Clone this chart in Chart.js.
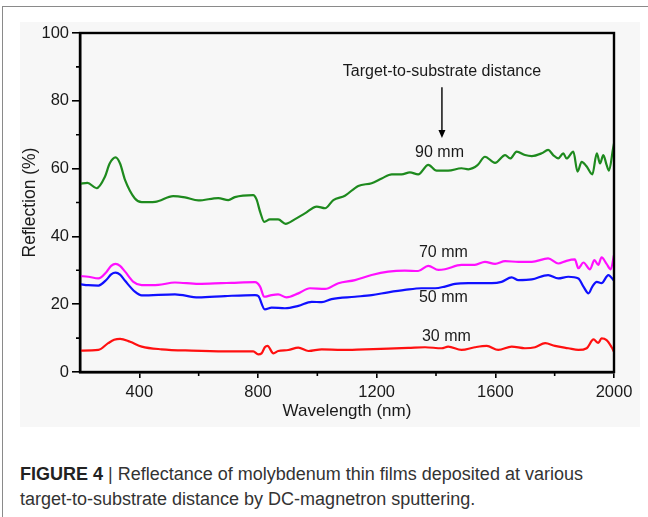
<!DOCTYPE html>
<html>
<head>
<meta charset="utf-8">
<script src="https://cdn.jsdelivr.net/npm/chart.js@4.4.0/dist/chart.umd.min.js"></script>
<style>
    html, body { margin: 0; padding: 0; background: #fff; }
    body { width: 648px; height: 517px; position: relative; overflow: hidden; font-family: "Liberation Sans", Arial, sans-serif; }
    #frame { position: absolute; left: 2px; top: 6px; width: 660px; height: 530px; border-left: 1px solid #8a8a8a; border-top: 1px solid #8a8a8a; }
    #panel { position: absolute; left: 20px; top: 22px; width: 620px; height: 405px; background: #f7f7f7; }
    #wrap { position: absolute; left: 0; top: 0; width: 648px; height: 430px; }
    #caption { position: absolute; left: 20px; top: 462px; width: 625px; font-size: 18px; letter-spacing: 0; line-height: 25px; color: #333; white-space: nowrap; }
    #caption b { color: #222; }
</style>
</head>
<body>
<div id="frame"></div>
<div id="panel"></div>
<div id="wrap"><canvas id="reflChart"></canvas></div>
<div id="caption"><b>FIGURE 4</b> | Reflectance of molybdenum thin films deposited at various<br>target-to-substrate distance by DC-magnetron sputtering.</div>
<script>
// wavelength (nm) / reflection (%)
const wl90 = [200, 225, 256, 284, 300, 320, 335, 352, 385, 408, 453, 514, 554, 599, 666, 700, 722, 784, 795, 808, 821, 840, 868, 893, 925, 958, 998, 1026, 1054, 1093, 1138, 1183, 1217, 1251, 1284, 1312, 1340, 1374, 1402, 1441, 1486, 1509, 1540, 1565, 1599, 1633, 1650, 1672, 1700, 1723, 1756, 1778, 1795, 1812, 1829, 1840, 1863, 1877, 1891, 1908, 1927, 1942, 1953, 1964, 1975, 1983, 1997, 2000];
const r90 = [55.5, 55.8, 54.2, 57.6, 61.5, 63.3, 61.5, 56.6, 51.2, 50.1, 50.2, 51.9, 51.5, 50.6, 51.3, 50.7, 51.6, 52.2, 50.9, 47.0, 44.3, 45.0, 45.0, 43.7, 45.1, 46.8, 48.8, 48.3, 50.7, 52.0, 54.9, 55.7, 57.1, 58.3, 58.3, 58.9, 58.3, 61.1, 59.4, 59.4, 60.1, 59.8, 61.0, 63.5, 61.7, 64.0, 63.0, 65.0, 64.0, 63.7, 64.5, 65.5, 64.0, 63.0, 64.5, 63.0, 65.0, 59.1, 62.0, 60.6, 58.3, 64.5, 61.5, 64.0, 61.1, 59.4, 66.0, 67.4];

const wl70 = [200, 228, 262, 290, 305, 320, 335, 352, 380, 408, 464, 520, 599, 677, 711, 790, 807, 821, 846, 868, 896, 936, 975, 1026, 1071, 1127, 1183, 1239, 1295, 1340, 1374, 1408, 1430, 1486, 1531, 1565, 1599, 1633, 1678, 1723, 1778, 1812, 1840, 1868, 1880, 1897, 1919, 1934, 1947, 1958, 1975, 1989, 2000];
const r70 = [28.3, 28.1, 27.6, 29.6, 31.3, 31.9, 31.3, 29.6, 26.6, 25.6, 25.7, 26.4, 26.0, 26.2, 26.3, 26.5, 25.2, 22.2, 22.7, 22.9, 22.0, 23.2, 24.7, 24.5, 26.2, 27.1, 28.6, 29.6, 29.9, 29.8, 31.3, 30.1, 30.3, 31.6, 31.6, 32.5, 31.9, 32.7, 32.5, 32.5, 33.5, 32.0, 32.8, 33.2, 30.6, 32.3, 30.3, 33.0, 31.6, 33.8, 31.9, 30.3, 34.5];

const wl50 = [200, 228, 262, 290, 305, 320, 335, 352, 385, 408, 520, 599, 689, 790, 801, 823, 846, 891, 936, 981, 1015, 1048, 1127, 1183, 1239, 1295, 1351, 1397, 1430, 1464, 1509, 1554, 1588, 1621, 1655, 1678, 1723, 1778, 1812, 1846, 1880, 1897, 1914, 1927, 1942, 1958, 1981, 2000];
const r50 = [25.9, 25.6, 25.5, 27.3, 28.8, 29.3, 28.7, 26.9, 23.7, 22.6, 22.9, 22.0, 22.4, 22.7, 22.4, 18.5, 19.0, 18.8, 19.5, 20.7, 20.6, 21.5, 22.2, 22.7, 23.5, 24.2, 24.7, 24.7, 25.2, 26.0, 26.2, 26.2, 26.2, 26.6, 27.9, 27.1, 27.3, 28.6, 27.6, 28.1, 27.6, 25.2, 23.2, 25.2, 26.6, 26.2, 28.6, 26.9];

const wl30 = [200, 262, 295, 315, 335, 369, 408, 475, 576, 689, 784, 801, 812, 823, 832, 852, 868, 902, 936, 970, 1015, 1082, 1160, 1239, 1307, 1363, 1419, 1441, 1486, 1531, 1571, 1610, 1655, 1700, 1734, 1768, 1801, 1846, 1880, 1908, 1931, 1947, 1958, 1975, 1992, 2000];
const r30 = [6.3, 6.5, 8.5, 9.5, 9.8, 8.9, 7.5, 6.7, 6.3, 6.1, 6.1, 5.2, 5.5, 7.3, 7.7, 5.5, 6.2, 6.5, 7.2, 6.2, 6.7, 6.5, 6.7, 6.9, 7.1, 7.3, 7.0, 7.5, 6.5, 7.3, 7.7, 6.5, 7.5, 7.0, 7.3, 8.5, 7.7, 7.0, 6.5, 7.0, 9.6, 8.6, 9.9, 9.4, 7.3, 6.0];

const xTicks = [400, 800, 1200, 1600, 2000];
const yTicks = [0, 20, 40, 60, 80, 100];

const colors = {
    g90: '#1e8a1e',
    m70: '#ff10ff',
    b50: '#1010ff',
    r30: '#ff1010',
    text: '#1a1a1a'
};

const FONT = '"Liberation Sans", Arial, sans-serif';

const toPoints = (xs, ys) => xs.map((x, i) => ({ x: x, y: ys[i] }));

function series(label, xs, ys, color) {
    return {
        label: label,
        data: toPoints(xs, ys),
        borderColor: color,
        borderWidth: 2.2,
        pointRadius: 0,
        cubicInterpolationMode: 'monotone',
        fill: false
    };
}

// labels placed in data coordinates
const notes = [
    { text: 'Target-to-substrate distance', x: 1420, y: 88.5 },
    { text: '90 mm', x: 1412, y: 64.6 },
    { text: '70 mm', x: 1425, y: 35.1 },
    { text: '50 mm', x: 1425, y: 22.0 },
    { text: '30 mm', x: 1435, y: 10.3 }
];

const decorPlugin = {
    id: 'decor',
    afterDraw(chart) {
        const { ctx, chartArea: a, scales } = chart;
        const xs = scales.x, ys = scales.y;
        ctx.save();
        // box around plot
        ctx.strokeStyle = '#000';
        ctx.lineWidth = 2.4;
        ctx.strokeRect(a.left, a.top, a.right - a.left, a.bottom - a.top);
        // minor ticks
        ctx.lineWidth = 1.6;
        ctx.beginPath();
        for (let v = 600; v < 2000; v += 400) {
            const px = xs.getPixelForValue(v);
            ctx.moveTo(px, a.bottom);
            ctx.lineTo(px, a.bottom + 4);
        }
        for (let v = 10; v < 100; v += 20) {
            const py = ys.getPixelForValue(v);
            ctx.moveTo(a.left, py);
            ctx.lineTo(a.left - 4, py);
        }
        ctx.stroke();
        // annotations
        ctx.fillStyle = colors.text;
        ctx.font = '16px ' + FONT;
        ctx.textAlign = 'center';
        ctx.textBaseline = 'middle';
        notes.forEach(n => {
            ctx.fillText(n.text, xs.getPixelForValue(n.x), ys.getPixelForValue(n.y));
        });
        // arrow
        const ax = xs.getPixelForValue(1420);
        const y0 = ys.getPixelForValue(84), y1 = ys.getPixelForValue(69);
        ctx.strokeStyle = '#000';
        ctx.lineWidth = 1.4;
        ctx.beginPath();
        ctx.moveTo(ax, y0);
        ctx.lineTo(ax, y1 - 6);
        ctx.stroke();
        ctx.fillStyle = '#000';
        ctx.beginPath();
        ctx.moveTo(ax - 3.5, y1 - 8);
        ctx.lineTo(ax + 3.5, y1 - 8);
        ctx.lineTo(ax, y1);
        ctx.closePath();
        ctx.fill();
        ctx.restore();
    }
};

const ctx = document.getElementById('reflChart').getContext('2d');
new Chart(ctx, {
    type: 'line',
    data: {
        datasets: [
            series('90 mm', wl90, r90, colors.g90),
            series('70 mm', wl70, r70, colors.m70),
            series('50 mm', wl50, r50, colors.b50),
            series('30 mm', wl30, r30, colors.r30)
        ]
    },
    options: {
        responsive: true,
        maintainAspectRatio: false,
        animation: false,
        layout: { padding: { left: 0, top: 33, right: 34, bottom: 0 } },
        plugins: {
            legend: { display: false },
            tooltip: { enabled: false }
        },
        scales: {
            x: {
                type: 'linear',
                min: 200,
                max: 2000,
                afterBuildTicks: s => { s.ticks = xTicks.map(v => ({ value: v })); },
                afterFit: s => { s.height = 58; },
                border: { display: true, color: '#000', width: 2.4 },
                grid: { drawOnChartArea: false, tickLength: 6, color: '#000', lineWidth: 1.6 },
                ticks: { color: colors.text, padding: 5, maxRotation: 0, callback: v => String(v), font: { size: 16.5, family: FONT } },
                title: { display: true, text: 'Wavelength (nm)', color: colors.text, padding: { top: 0, bottom: 8 }, font: { size: 17, family: FONT } }
            },
            y: {
                min: 0,
                max: 100,
                afterBuildTicks: s => { s.ticks = yTicks.map(v => ({ value: v })); },
                afterFit: s => { s.width = 80; },
                border: { display: true, color: '#000', width: 2.4 },
                grid: { drawOnChartArea: false, tickLength: 8, color: '#000', lineWidth: 1.6 },
                ticks: { color: colors.text, padding: 3, callback: v => String(v), font: { size: 16.5, family: FONT } },
                title: { display: true, text: 'Reflection (%)', color: colors.text, padding: { top: 20, bottom: 0 }, font: { size: 17.5, family: FONT } }
            }
        }
    },
    plugins: [decorPlugin]
});
</script>
</body>
</html>
